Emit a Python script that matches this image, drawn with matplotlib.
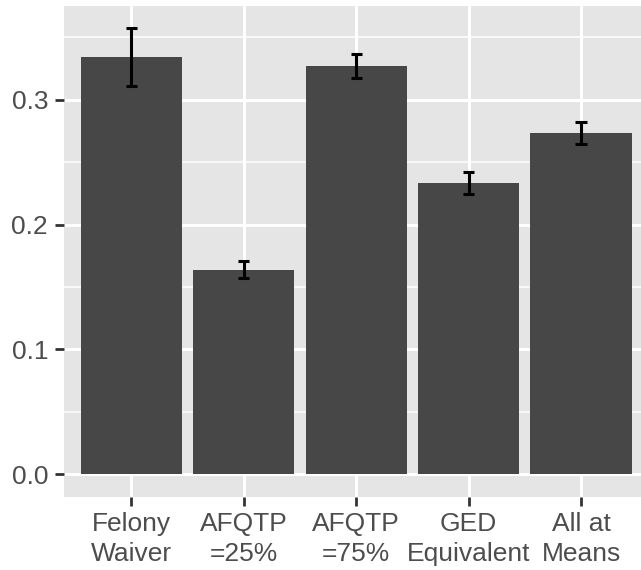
""" Bar chart of predicted probabilities with error bars (ggplot look).
"""

import numpy as np
import matplotlib
matplotlib.use("Agg")
import matplotlib.pyplot as plt
from matplotlib.ticker import MultipleLocator


""" DATA """
categories = ["Felony\nWaiver", "AFQTP\n=25%", "AFQTP\n=75%", "GED\nEquivalent", "All at\nMeans"]
values = [0.334, 0.164, 0.327, 0.233, 0.273]
err_low = [0.311, 0.157, 0.317, 0.2245, 0.2645]
err_high = [0.357, 0.1705, 0.3365, 0.242, 0.2825]


""" STYLE """
W, H = 641, 570
panel_bg = "#E5E5E5"
bar_color = "#474747"
text_color = "#4D4D4D"
tick_color = "#333333"
plt.rcParams["font.family"] = ["Liberation Sans", "DejaVu Sans"]


def main():
    fig = plt.figure(figsize=(W / 100, H / 100), dpi=100)
    # panel spans past the right edge, as in the reference
    left, right, top, bottom = 64, 648.5, 6, 496.7
    ax = fig.add_axes([left / W, 1 - bottom / H, (right - left) / W, (bottom - top) / H])
    ax.set_facecolor(panel_bg)
    for s in ax.spines.values():
        s.set_visible(False)

    x = np.arange(1, len(categories) + 1)
    ax.bar(x, values, width=0.9, color=bar_color, zorder=3)

    # error bars
    ax.vlines(x, err_low, err_high, color="black", lw=2.2, zorder=4)
    cap = 0.05
    ax.hlines(err_low, x - cap, x + cap, color="black", lw=2.2, zorder=4)
    ax.hlines(err_high, x - cap, x + cap, color="black", lw=2.2, zorder=4)

    ax.set_xlim(0.4, 5.6)
    ax.set_ylim(-0.01786, 0.375)

    ax.yaxis.set_minor_locator(MultipleLocator(0.05))
    ax.set_yticks([0.0, 0.1, 0.2, 0.3])
    ax.set_yticklabels(["0.0", "0.1", "0.2", "0.3"])
    ax.set_xticks(x)
    ax.set_xticklabels(categories, linespacing=1.3)

    ax.grid(which="major", color="white", lw=2.2, zorder=1)
    ax.grid(which="minor", axis="y", color="white", lw=1.1, zorder=1)
    ax.tick_params(which="minor", length=0)
    ax.tick_params(which="major", length=6.5, width=2.0, color=tick_color,
                   labelsize=19, labelcolor=text_color)
    ax.tick_params(axis="x", pad=4.5)
    ax.tick_params(axis="y", pad=5)

    fig.savefig("out.png", dpi=100)
    plt.close(fig)


if __name__ == "__main__":
    main()
